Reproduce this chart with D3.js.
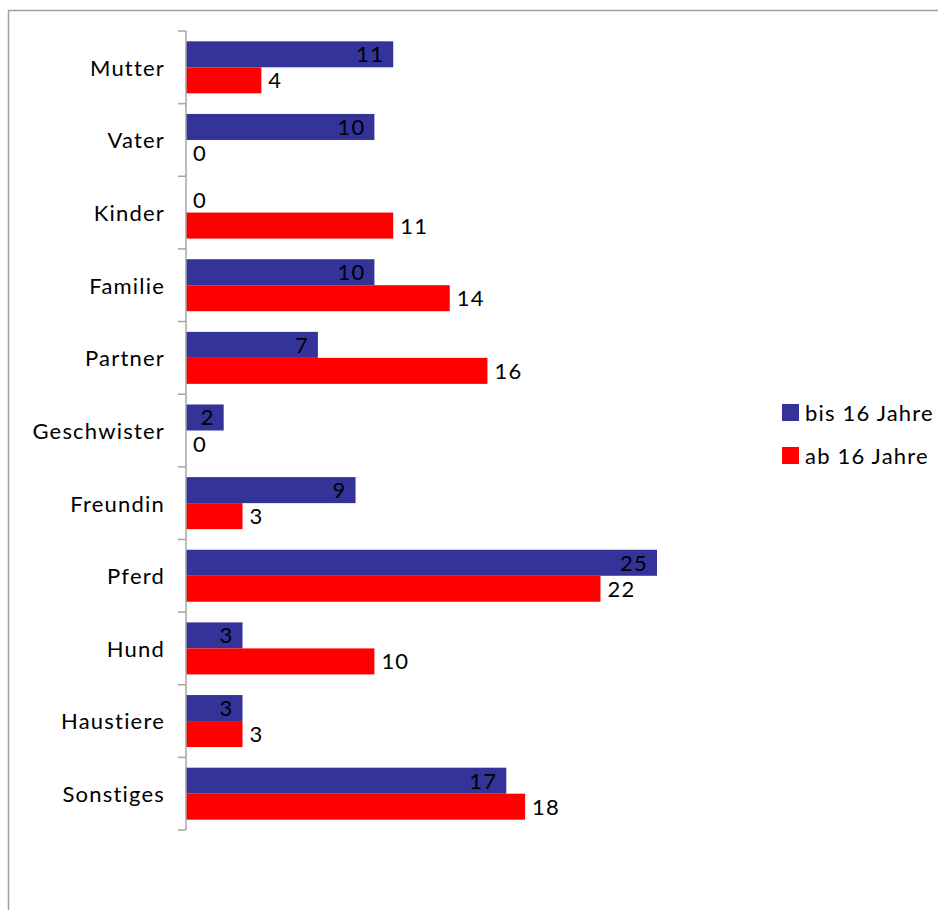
<!DOCTYPE html>
<html><head><meta charset="utf-8">
<script src="https://cdn.jsdelivr.net/npm/d3@7"></script>
<style>body{margin:0;background:#fff}svg{display:block}text{font-family:Lato,"Open Sans",sans-serif;fill:#000;letter-spacing:1.2px}</style>
</head><body><svg width="938" height="910"></svg>
<script>
const categories = ["Mutter","Vater","Kinder","Familie","Partner","Geschwister","Freundin","Pferd","Hund","Haustiere","Sonstiges"];
const seriesNames = ["bis 16 Jahre","ab 16 Jahre"];
const bis16 = [11,10,0,10,7,2,9,25,3,3,17];
const ab16 = [4,0,11,14,16,0,3,22,10,3,18];
const colors = ["#333399","#ff0000"];

const svg = d3.select("svg");
// frame
svg.append("rect").attr("x",8.5).attr("y",10.5).attr("width",960).attr("height",960)
  .attr("fill","none").attr("stroke","#a0a0a0").attr("stroke-width",1.5);

const x0 = 186, yTop = 31, yBot = 830;
const fs = 22;
const x = d3.scaleLinear().domain([0,25]).range([x0, 657]);
const y = d3.scaleBand().domain(categories).range([yTop,yBot]).paddingInner(0.284).paddingOuter(0.142);
const ys = d3.scaleBand().domain(seriesNames).range([0,y.bandwidth()]);

const data = [bis16, ab16];
const g = svg.append("g");
seriesNames.forEach((s,si)=>{
  const vals = data[si];
  g.selectAll(".b"+si).data(categories).enter().append("rect")
    .attr("x", x(0)).attr("y", c=>y(c)+ys(s))
    .attr("width", (c,i)=>x(vals[i])-x(0)).attr("height", ys.bandwidth())
    .attr("fill", colors[si]);
  g.selectAll(".l"+si).data(categories).enter().append("text")
    .attr("x",(c,i)=> si===0 && vals[i]>0 ? x(vals[i])-9 : x(vals[i])+7)
    .attr("y", c=>y(c)+ys(s)+ys.bandwidth()/2+8)
    .attr("text-anchor",(c,i)=> si===0 && vals[i]>0 ? "end":"start")
    .attr("font-size",fs)
    .text((c,i)=>vals[i]);
});

// axis
const ax = d3.axisLeft(d3.scaleBand().domain(categories).range([yTop,yBot])).tickSize(0).tickPadding(21);
const axg = svg.append("g").attr("transform",`translate(${x0},0)`).call(ax);
axg.select(".domain").attr("stroke","#a6a6a6").attr("stroke-width",1.5).attr("d",`M0,${yTop}V${yBot}`);
axg.selectAll("text").attr("font-size",fs).attr("fill","#000").style("font-family","Lato,'Open Sans',sans-serif").attr("dy","0.38em");
// boundary ticks
const bounds = d3.range(categories.length+1).map(i=>yTop+i*(yBot-yTop)/categories.length);
svg.append("g").selectAll("line").data(bounds).enter().append("line")
  .attr("x1",x0-8).attr("x2",x0).attr("y1",d=>d).attr("y2",d=>d)
  .attr("stroke","#a6a6a6").attr("stroke-width",1.5);

// legend
const lg = svg.append("g");
seriesNames.forEach((s,i)=>{
  lg.append("rect").attr("x",782).attr("y",404+i*43).attr("width",17).attr("height",17).attr("fill",colors[i]);
  lg.append("text").attr("x",805).attr("y",421+i*43).attr("font-size",fs).text(s);
});
</script></body></html>
